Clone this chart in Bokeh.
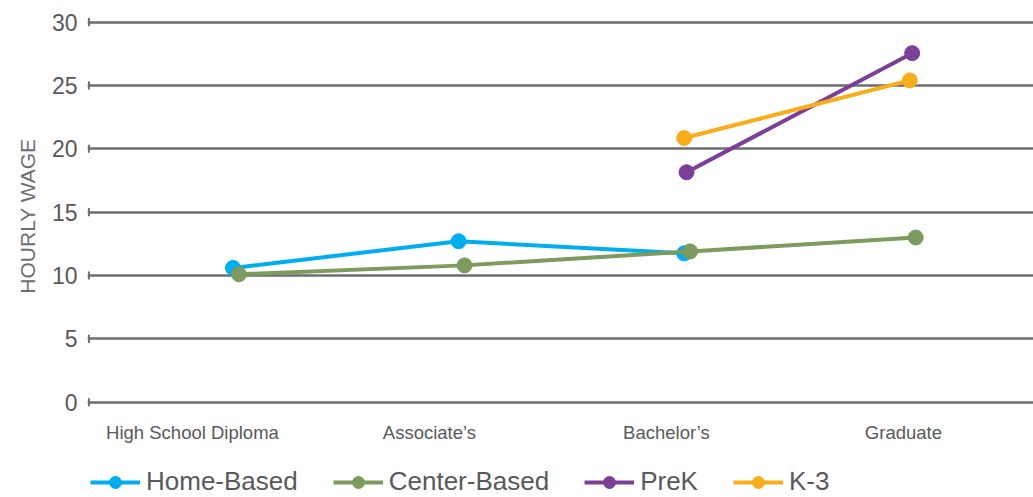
from bokeh.plotting import figure
from bokeh.models import Legend, LegendItem, FixedTicker, Range1d, Title
from bokeh.embed import file_html
from bokeh.resources import INLINE

categories = ["High School Diploma", "Associate\u2019s", "Bachelor\u2019s", "Graduate"]
y_ticks = [0, 5, 10, 15, 20, 25, 30]
y_title = "HOURLY WAGE"

home_cats = [0, 1, 2]
home_vals = [10.6, 12.7, 11.75]
center_cats = [0, 1, 2, 3]
center_vals = [10.1, 10.8, 11.9, 13.0]
prek_cats = [2, 3]
prek_vals = [18.15, 27.55]
k3_cats = [2, 3]
k3_vals = [20.85, 25.4]

series = [
    ("Home-Based", home_cats, home_vals, "#00aeef", -0.01),
    ("Center-Based", center_cats, center_vals, "#7d9b5e", 0.015),
    ("PreK", prek_cats, prek_vals, "#7b3f98", 0.0),
    ("K-3", k3_cats, k3_vals, "#f8ae1c", -0.01),
]

FONT = "Liberation Sans"
GRAY = "#58595b"
TITLE_GRAY = "#6d6e71"
GRID = "#6d6e71"

# point placement relative to the category labels
STEP = 0.952
SHIFT = 0.181

p = figure(width=1033, height=497, output_backend="svg", toolbar_location=None,
           x_range=Range1d(-0.443, 3.549), y_range=Range1d(-7.52, 30.6),
           min_border_left=87, min_border_top=14, min_border_right=0,
           min_border_bottom=0, outline_line_color=None)

p.xaxis.ticker = FixedTicker(ticks=list(range(len(categories))))
p.xaxis.major_label_overrides = {i: c for i, c in enumerate(categories)}
p.xaxis.fixed_location = -0.6
p.xaxis.axis_line_color = None
p.xaxis.major_tick_line_color = None
p.xaxis.major_tick_out = 0
p.xaxis.major_tick_in = 0
p.xaxis.minor_tick_line_color = None
p.xaxis.major_label_text_font = FONT
p.xaxis.major_label_text_font_size = "18.5px"
p.xaxis.major_label_text_color = GRAY
p.xaxis.major_label_standoff = 12
p.xgrid.grid_line_color = None

p.yaxis.ticker = FixedTicker(ticks=y_ticks)
p.yaxis.axis_line_color = None
p.yaxis.major_tick_line_color = None
p.yaxis.major_tick_out = 0
p.yaxis.major_tick_in = 0
p.yaxis.minor_tick_line_color = None
p.yaxis.major_label_text_font = FONT
p.yaxis.major_label_text_font_size = "23px"
p.yaxis.major_label_text_color = GRAY
p.yaxis.major_label_standoff = 10
p.ygrid.grid_line_color = GRID
p.ygrid.grid_line_width = 2.5

p.add_layout(Title(text=y_title, align="right", offset=124,
                   vertical_align="top",
                   text_font=FONT, text_font_size="21px",
                   text_font_style="normal", text_color=TITLE_GRAY,
                   standoff=16), "left")

# small vertical tick bars at the start of each grid line
xs = -0.437
p.segment(x0=[xs] * len(y_ticks), x1=[xs] * len(y_ticks),
          y0=[t - 0.32 for t in y_ticks], y1=[t + 0.32 for t in y_ticks],
          line_color=GRID, line_width=2)

items = []
for name, cats, vals, color, dodge in series:
    x = [c * STEP + SHIFT + dodge for c in cats]
    r1 = p.line(x, vals, line_color=color, line_width=4)
    r2 = p.scatter(x, vals, size=15, fill_color=color, line_color=color)
    items.append(LegendItem(label=name, renderers=[r1, r2]))

legend = Legend(items=items, orientation="horizontal", location=(3, 0),
                label_text_font=FONT, label_text_font_size="26px",
                label_text_color=GRAY, glyph_width=50, glyph_height=30,
                label_height=30, spacing=35,
                border_line_color=None, background_fill_alpha=0,
                margin=0, padding=0, label_standoff=6)
p.add_layout(legend, "center")

open("out.html", "w").write(file_html(p, INLINE))
